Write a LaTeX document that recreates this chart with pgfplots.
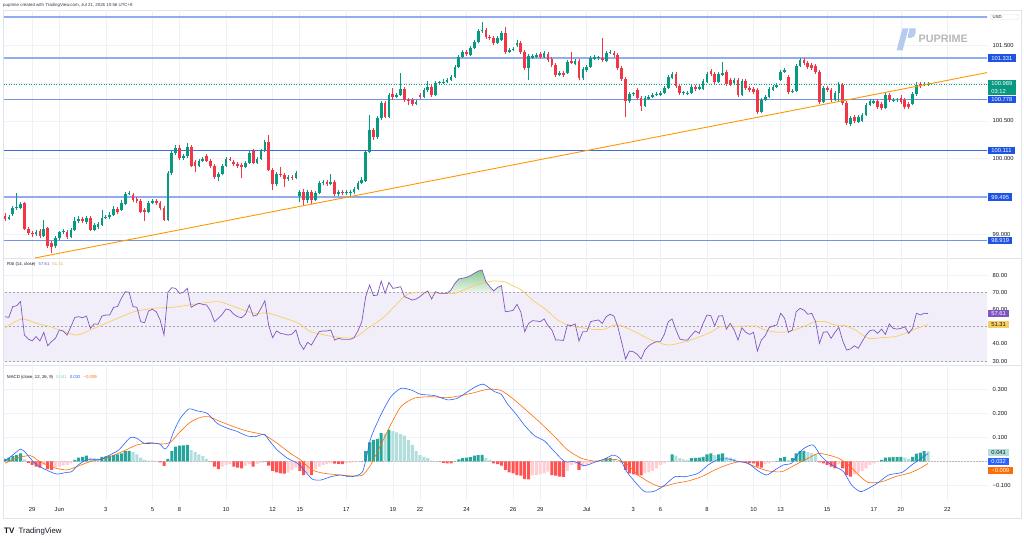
\documentclass[border=0pt]{standalone}
\usepackage{pgfplots}
\pgfplotsset{compat=1.18}
\usepackage{pgfplotstable}
\usepackage{fontspec}
\setmainfont{Liberation Sans}
\definecolor{up}{HTML}{089981}
\definecolor{dn}{HTML}{F23645}
\definecolor{hgd}{HTML}{26A69A}
\definecolor{hgl}{HTML}{B2DFDB}
\definecolor{hrd}{HTML}{FF5252}
\definecolor{hrl}{HTML}{FFCDD2}
\definecolor{macdc}{HTML}{2962FF}
\definecolor{sigc}{HTML}{FF6D00}
\definecolor{rsic}{HTML}{7E57C2}
\definecolor{rsima}{HTML}{F7CF5E}
\definecolor{band}{HTML}{F2EEF9}
\definecolor{gridc}{HTML}{EEF1F7}
\definecolor{srl}{HTML}{93ABEF}
\definecolor{srm}{HTML}{7393EA}
\definecolor{srd}{HTML}{3D6BE0}
\definecolor{boxb}{HTML}{1E53E5}
\definecolor{trend}{HTML}{FF9800}
\definecolor{sep}{HTML}{E0E3EB}
\definecolor{txt}{HTML}{131722}
\definecolor{logob}{HTML}{B7CAF0}
\definecolor{obtop}{HTML}{86C98F}
\definecolor{obbot}{HTML}{EEF6EF}
\newcommand\fs{\fontsize{5.8}{7}\selectfont}
\newcommand\ft{\fontsize{4.3}{5}\selectfont}

\pgfplotstableread{
i O H L C
0 99.243 99.282 99.177 99.203
1 99.203 99.256 99.190 99.229
2 99.269 99.375 99.243 99.348
3 99.348 99.546 99.322 99.362
4 99.348 99.428 99.335 99.401
5 99.414 99.428 99.058 99.071
6 99.071 99.097 98.992 99.018
7 99.018 99.044 98.965 99.005
8 99.005 99.058 98.978 99.031
9 99.044 99.071 98.952 98.978
10 98.978 99.190 98.965 99.071
11 99.084 99.097 98.820 98.846
12 98.886 98.912 98.754 98.833
13 98.846 98.978 98.820 98.952
14 98.952 99.044 98.926 99.031
15 99.031 99.071 99.005 99.044
16 99.031 99.058 98.939 98.965
17 98.965 99.084 98.952 99.058
18 99.058 99.229 99.044 99.177
19 99.177 99.243 99.150 99.203
20 99.203 99.229 99.150 99.177
21 99.163 99.243 99.137 99.216
22 99.216 99.243 99.044 99.058
23 99.058 99.150 99.044 99.124
24 99.097 99.163 99.071 99.137
25 99.124 99.322 99.110 99.216
26 99.216 99.256 99.203 99.229
27 99.229 99.296 99.203 99.256
28 99.256 99.375 99.243 99.335
29 99.335 99.361 99.269 99.296
30 99.322 99.454 99.309 99.414
31 99.401 99.560 99.388 99.533
32 99.533 99.573 99.520 99.546
33 99.520 99.546 99.428 99.454
34 99.467 99.494 99.414 99.441
35 99.441 99.467 99.282 99.296
36 99.322 99.348 99.177 99.296
37 99.296 99.441 99.282 99.414
38 99.414 99.467 99.401 99.441
39 99.441 99.467 99.388 99.414
40 99.414 99.441 99.322 99.348
41 99.348 99.375 99.177 99.190
42 99.190 99.837 99.177 99.811
43 99.811 100.101 99.784 100.075
44 100.075 100.181 100.049 100.141
45 100.141 100.181 99.983 100.009
46 100.009 100.062 99.983 100.035
47 100.035 100.207 100.009 100.154
48 100.154 100.181 99.890 99.903
49 99.956 99.983 99.824 99.903
50 99.903 99.996 99.890 99.969
51 99.969 100.022 99.956 99.996
52 100.035 100.062 99.956 99.969
53 99.969 99.996 99.877 99.903
54 99.903 99.930 99.732 99.758
55 99.758 99.824 99.705 99.798
56 99.798 99.930 99.784 99.903
57 99.903 100.022 99.890 99.996
58 99.996 100.022 99.969 99.986
59 99.956 99.983 99.903 99.930
60 99.930 99.956 99.877 99.903
61 99.916 99.943 99.745 99.890
62 99.890 99.969 99.877 99.943
63 99.943 100.101 99.930 100.075
64 100.101 100.128 99.930 99.943
65 99.943 100.022 99.930 99.996
66 99.996 100.128 99.983 100.101
67 100.101 100.247 100.088 100.220
68 100.220 100.313 99.837 99.851
69 99.851 99.877 99.586 99.665
70 99.665 99.824 99.639 99.798
71 99.798 99.890 99.758 99.784
72 99.784 99.811 99.626 99.732
73 99.732 99.784 99.705 99.758
74 99.758 99.784 99.719 99.745
75 99.745 99.837 99.732 99.811
76 99.507 99.586 99.428 99.560
77 99.560 99.599 99.388 99.454
78 99.454 99.586 99.414 99.560
79 99.560 99.586 99.401 99.454
80 99.454 99.573 99.441 99.546
81 99.546 99.705 99.533 99.679
82 99.679 99.719 99.652 99.692
83 99.692 99.719 99.639 99.665
84 99.665 99.798 99.652 99.692
85 99.692 99.719 99.507 99.533
86 99.533 99.586 99.507 99.560
87 99.560 99.586 99.520 99.546
88 99.546 99.586 99.520 99.560
89 99.546 99.586 99.507 99.560
90 99.560 99.626 99.533 99.599
91 99.599 99.705 99.586 99.679
92 99.679 99.758 99.665 99.719
93 99.705 100.115 99.692 100.088
94 100.088 100.577 100.075 100.379
95 100.379 100.405 100.247 100.286
96 100.286 100.564 100.260 100.537
97 100.537 100.762 100.511 100.735
98 100.735 100.762 100.537 100.550
99 100.550 100.868 100.537 100.841
100 100.854 100.934 100.775 100.815
101 100.815 100.868 100.802 100.841
102 100.841 101.132 100.828 100.920
103 100.920 100.947 100.749 100.775
104 100.775 100.802 100.709 100.762
105 100.775 100.802 100.696 100.722
106 100.722 100.775 100.709 100.749
107 100.841 100.868 100.788 100.815
108 100.815 100.934 100.802 100.907
109 100.907 101.026 100.881 100.947
110 100.947 100.973 100.815 100.841
111 100.841 101.026 100.828 101.000
112 101.000 101.026 100.973 101.010
113 101.000 101.053 100.987 101.013
114 101.013 101.066 101.000 101.039
115 101.039 101.105 101.026 101.079
116 101.079 101.238 101.066 101.211
117 101.211 101.370 101.198 101.343
118 101.343 101.436 101.330 101.409
119 101.409 101.436 101.356 101.383
120 101.370 101.488 101.356 101.462
121 101.462 101.568 101.449 101.541
122 101.541 101.713 101.528 101.686
123 101.686 101.806 101.660 101.700
124 101.700 101.726 101.581 101.607
125 101.607 101.634 101.568 101.594
126 101.594 101.621 101.502 101.528
127 101.528 101.621 101.515 101.594
128 101.568 101.686 101.555 101.660
129 101.660 101.739 101.383 101.409
130 101.409 101.462 101.396 101.436
131 101.436 101.475 101.422 101.449
132 101.502 101.568 101.475 101.528
133 101.528 101.555 101.383 101.409
134 101.409 101.436 101.172 101.198
135 101.198 101.383 101.039 101.356
136 101.330 101.383 101.317 101.356
137 101.343 101.396 101.330 101.370
138 101.383 101.409 101.317 101.343
139 101.343 101.422 101.330 101.396
140 101.383 101.409 101.277 101.304
141 101.317 101.343 101.211 101.237
142 101.237 101.264 101.079 101.105
143 101.105 101.158 101.092 101.132
144 101.132 101.158 101.079 101.105
145 101.132 101.304 101.119 101.277
146 101.290 101.409 101.251 101.264
147 101.251 101.317 101.237 101.290
148 101.290 101.317 101.039 101.066
149 101.066 101.211 101.039 101.185
150 101.172 101.237 101.145 101.211
151 101.211 101.356 101.198 101.330
152 101.317 101.370 101.304 101.343
153 101.330 101.356 101.304 101.340
154 101.330 101.594 101.277 101.304
155 101.290 101.422 101.277 101.396
156 101.396 101.436 101.383 101.409
157 101.396 101.422 101.343 101.370
158 101.370 101.396 101.172 101.198
159 101.198 101.224 101.026 101.052
160 101.052 101.079 100.551 100.762
161 100.762 100.881 100.735 100.854
162 100.854 100.881 100.828 100.864
163 100.907 100.934 100.775 100.802
164 100.802 100.828 100.630 100.696
165 100.696 100.828 100.683 100.802
166 100.788 100.841 100.775 100.815
167 100.815 100.868 100.802 100.841
168 100.841 100.881 100.828 100.854
169 100.841 100.894 100.828 100.868
170 100.868 100.960 100.854 100.934
171 100.934 101.105 100.920 101.079
172 101.066 101.145 101.052 101.119
173 101.119 101.145 100.934 100.960
174 100.960 100.987 100.841 100.868
175 100.868 100.894 100.841 100.878
176 100.854 100.894 100.841 100.868
177 100.868 100.973 100.854 100.947
178 100.947 100.973 100.894 100.920
179 100.920 100.973 100.907 100.947
180 100.920 101.053 100.907 101.026
181 101.013 101.145 101.000 101.119
182 101.158 101.185 101.092 101.119
183 101.119 101.145 100.987 101.013
184 101.013 101.145 101.000 101.119
185 101.105 101.277 101.092 101.132
186 101.145 101.172 100.960 100.987
187 101.039 101.066 100.960 100.987
188 101.000 101.066 100.973 101.039
189 101.039 101.066 100.815 100.841
190 100.841 101.053 100.828 101.026
191 101.026 101.053 100.907 100.934
192 100.934 100.960 100.881 100.907
193 100.920 100.947 100.854 100.881
194 100.907 100.934 100.590 100.617
195 100.617 100.802 100.603 100.775
196 100.775 100.841 100.762 100.815
197 100.815 100.947 100.802 100.920
198 100.907 100.973 100.894 100.947
199 100.947 101.000 100.934 100.973
200 101.039 101.172 101.026 101.145
201 101.145 101.198 101.132 101.172
202 101.079 101.105 100.854 100.881
203 100.881 100.920 100.868 100.894
204 100.894 101.251 100.881 101.224
205 101.224 101.330 101.211 101.304
206 101.304 101.330 101.237 101.264
207 101.264 101.290 101.185 101.211
208 101.237 101.264 101.172 101.198
209 101.224 101.251 101.119 101.145
210 101.145 101.172 100.722 100.749
211 100.749 100.960 100.735 100.934
212 100.934 100.960 100.881 100.907
213 100.907 100.934 100.749 100.775
214 100.775 100.894 100.762 100.868
215 100.868 101.013 100.762 100.973
216 100.973 101.000 100.709 100.735
217 100.735 100.762 100.445 100.471
218 100.458 100.564 100.432 100.537
219 100.551 100.577 100.471 100.498
220 100.485 100.577 100.471 100.551
221 100.498 100.603 100.485 100.577
222 100.577 100.735 100.564 100.709
223 100.709 100.788 100.696 100.762
224 100.735 100.788 100.722 100.762
225 100.762 100.788 100.656 100.683
226 100.722 100.749 100.643 100.670
227 100.670 100.868 100.656 100.841
228 100.841 100.868 100.749 100.775
229 100.762 100.802 100.749 100.775
230 100.775 100.802 100.749 100.785
231 100.802 100.841 100.722 100.749
232 100.775 100.802 100.656 100.683
233 100.722 100.749 100.656 100.683
234 100.722 100.881 100.709 100.854
235 100.854 101.013 100.828 100.973
236 100.987 101.013 100.934 100.960
237 100.973 101.013 100.960 100.987
238 100.987 101.013 100.960 100.989
}\candles

\pgfplotstableread{
i r
0 55.8
1 55.4
2 61.7
3 62.2
4 64.6
5 45.1
6 42.8
7 41.7
8 44.2
9 41.7
10 46.7
11 38.9
12 41.3
13 43.2
14 48.1
15 47.5
16 45.1
17 50.0
18 55.4
19 55.8
20 55.2
21 56.2
22 49.0
23 51.6
24 51.4
25 56.2
26 56.8
27 56.8
28 61.3
29 61.7
30 66.5
31 70.4
32 70.0
33 61.7
34 61.3
35 52.9
36 52.3
37 59.1
38 60.1
39 58.7
40 53.9
41 45.1
42 70.0
43 72.7
44 72.3
45 69.4
46 70.0
47 72.3
48 61.3
49 62.6
50 63.6
51 63.0
52 62.6
53 59.1
54 52.9
55 54.9
56 57.2
57 60.3
58 59.7
59 57.2
60 55.8
61 55.2
62 57.2
63 62.6
64 56.2
65 56.8
66 60.7
67 65.1
68 50.6
69 43.6
70 47.5
71 46.1
72 45.7
73 45.1
74 45.7
75 48.1
76 40.3
77 36.8
78 40.9
79 39.3
80 43.2
81 47.1
82 47.5
83 47.5
84 48.1
85 42.2
86 43.2
87 42.6
88 42.6
89 42.6
90 43.6
91 47.5
92 52.9
93 67.5
94 74.3
95 68.1
96 68.4
97 76.6
98 69.4
99 75.8
100 72.3
101 72.7
102 73.3
103 67.5
104 66.5
105 65.5
106 66.1
107 67.5
108 69.4
109 70.8
110 66.1
111 70.4
112 69.4
113 69.4
114 69.4
115 71.4
116 75.2
117 77.8
118 78.2
119 78.7
120 79.7
121 81.1
122 82.4
123 83.0
124 76.2
125 73.3
126 70.8
127 72.9
128 73.9
129 58.7
130 59.0
131 59.5
132 63.0
133 58.5
134 47.1
135 51.9
136 53.5
137 53.3
138 52.9
139 54.5
140 50.6
141 48.1
142 42.2
143 42.2
144 42.0
145 51.0
146 50.6
147 51.6
148 41.7
149 47.1
150 47.1
151 52.9
152 53.5
153 53.9
154 51.9
155 55.8
156 57.2
157 56.2
158 50.0
159 40.9
160 31.2
161 35.8
162 35.4
163 33.9
164 31.2
165 36.4
166 38.9
167 40.3
168 41.3
169 41.3
170 45.5
171 52.9
172 54.5
173 48.1
174 42.8
175 42.2
176 42.2
177 45.1
178 47.5
179 46.1
180 51.9
181 56.8
182 56.4
183 50.4
184 56.2
185 56.4
186 48.6
187 51.9
188 48.1
189 42.2
190 49.4
191 46.7
192 45.5
193 46.7
194 35.8
195 42.2
196 44.6
197 49.4
198 50.4
199 51.0
200 57.8
201 54.9
202 46.7
203 48.1
204 58.7
205 60.7
206 59.7
207 57.2
208 57.8
209 52.9
210 40.3
211 46.7
212 47.1
213 43.2
214 46.7
215 49.6
216 41.7
217 36.4
218 37.0
219 38.9
220 37.4
221 41.3
222 45.1
223 47.7
224 48.1
225 46.1
226 48.6
227 45.5
228 51.6
229 49.0
230 48.6
231 49.0
232 50.0
233 46.1
234 49.0
235 57.8
236 56.8
237 57.8
238 57.61
}\rsi

\pgfplotstableread{
i h c
0 0.010 0
1 0.015 0
2 0.022 0
3 0.026 0
4 0.033 0
5 0.008 1
6 -0.006 2
7 -0.015 2
8 -0.022 2
9 -0.026 2
10 -0.015 3
11 -0.032 2
12 -0.036 2
13 -0.026 3
14 -0.022 3
15 -0.018 3
16 -0.015 3
17 -0.008 3
18 0.006 0
19 0.015 0
20 0.019 0
21 0.024 0
22 0.015 1
23 0.013 1
24 0.010 1
25 0.019 0
26 0.021 0
27 0.024 0
28 0.026 0
29 0.029 0
30 0.033 0
31 0.043 0
32 0.044 0
33 0.038 1
34 0.029 1
35 0.015 1
36 0.006 1
37 0.003 1
38 0.003 1
39 0.001 1
40 -0.004 2
41 -0.019 2
42 0.010 0
43 0.043 0
44 0.061 0
45 0.065 0
46 0.066 0
47 0.068 0
48 0.047 1
49 0.038 1
50 0.029 1
51 0.022 1
52 0.010 1
53 -0.001 2
54 -0.022 2
55 -0.032 2
56 -0.022 3
57 -0.015 3
58 -0.012 3
59 -0.022 2
60 -0.026 2
61 -0.029 2
62 -0.018 3
63 -0.012 3
64 -0.022 2
65 -0.012 3
66 -0.006 3
67 0.001 0
68 -0.018 2
69 -0.040 2
70 -0.046 2
71 -0.050 2
72 -0.051 2
73 -0.047 3
74 -0.036 3
75 -0.026 3
76 -0.040 2
77 -0.057 2
78 -0.050 3
79 -0.057 2
80 -0.032 3
81 -0.022 3
82 -0.015 3
83 -0.012 3
84 -0.008 3
85 -0.010 2
86 -0.011 2
87 -0.012 2
88 -0.007 3
89 -0.006 3
90 -0.004 3
91 -0.001 3
92 0.001 0
93 0.043 0
94 0.079 0
95 0.089 0
96 0.093 0
97 0.117 0
98 0.115 1
99 0.131 0
100 0.126 1
101 0.121 1
102 0.113 1
103 0.107 1
104 0.089 1
105 0.068 1
106 0.043 1
107 0.026 1
108 0.019 1
109 0.013 1
110 0.003 1
111 0.001 1
112 -0.001 2
113 -0.006 2
114 -0.008 2
115 -0.009 2
116 0.001 0
117 0.008 0
118 0.013 0
119 0.015 0
120 0.018 0
121 0.024 0
122 0.026 0
123 0.027 0
124 0.013 1
125 0.006 1
126 -0.008 2
127 -0.012 2
128 -0.018 2
129 -0.036 2
130 -0.046 2
131 -0.050 2
132 -0.057 2
133 -0.060 2
134 -0.074 2
135 -0.075 2
136 -0.057 3
137 -0.057 3
138 -0.054 3
139 -0.050 3
140 -0.043 3
141 -0.057 2
142 -0.060 2
143 -0.064 2
144 -0.065 2
145 -0.040 3
146 -0.015 3
147 -0.012 3
148 -0.036 2
149 -0.022 3
150 -0.015 3
151 -0.008 3
152 -0.004 3
153 -0.001 3
154 0.003 0
155 0.013 0
156 0.014 0
157 0.008 1
158 0.001 1
159 -0.004 2
160 -0.036 2
161 -0.050 2
162 -0.054 2
163 -0.057 2
164 -0.058 2
165 -0.050 3
166 -0.046 3
167 -0.040 3
168 -0.029 3
169 -0.015 3
170 -0.008 3
171 -0.001 3
172 0.029 0
173 0.024 1
174 0.013 1
175 0.008 1
176 0.006 1
177 0.013 0
178 0.014 0
179 0.015 0
180 0.019 0
181 0.029 0
182 0.033 0
183 0.026 1
184 0.029 0
185 0.033 0
186 0.019 1
187 0.015 1
188 0.010 1
189 0.001 1
190 -0.001 2
191 -0.006 2
192 -0.007 2
193 -0.008 2
194 -0.022 2
195 -0.026 2
196 -0.012 3
197 -0.008 3
198 -0.001 3
199 0.001 0
200 0.013 0
201 0.019 0
202 0.006 1
203 0.013 0
204 0.033 0
205 0.043 0
206 0.044 0
207 0.038 1
208 0.033 1
209 0.029 1
210 -0.004 2
211 -0.008 2
212 -0.015 2
213 -0.022 2
214 -0.029 2
215 -0.012 3
216 -0.029 2
217 -0.057 2
218 -0.064 2
219 -0.054 3
220 -0.050 3
221 -0.040 3
222 -0.029 3
223 -0.015 3
224 -0.008 3
225 -0.001 3
226 0.006 0
227 0.015 0
228 0.016 0
229 0.018 0
230 0.018 0
231 0.019 0
232 0.015 1
233 0.010 1
234 0.019 0
235 0.032 0
236 0.036 0
237 0.043 0
238 0.041 1
}\hist

\pgfplotsset{
  tvpane/.style={
    scale only axis, anchor=south west, width=983pt,
    xmin=-0.26, xmax=253.2,
    axis line style={draw=none},
    major tick length=0pt,
    xtick={7,14,26,38,45,57,69,76,88,100,107,119,131,138,150,162,169,181,193,200,212,224,231,243},
    xticklabels={},
    grid=major, grid style={draw=gridc, line width=0.6pt},
    yticklabel pos=right,
    yticklabel style={font=\fs, anchor=west, inner sep=0pt, xshift=5.5pt, text=txt},
    clip=true,
  },
  wick/.style={only marks, mark=*, mark size=0pt, mark options={draw=none, fill=none}, forget plot,
    error bars/y dir=plus, error bars/y explicit, error bars/error mark=none,
    error bars/error bar style={line width=0.75pt, draw=#1}},
  body/.style={only marks, mark=*, mark size=0pt, mark options={draw=none, fill=none}, forget plot,
    error bars/y dir=plus, error bars/y explicit, error bars/error mark=none,
    error bars/error bar style={line width=2.7pt, draw=#1}},
  hbar/.style={ybar, bar width=0.78, bar shift=0pt, fill=#1, draw=none, forget plot},
}
\tikzset{sbox/.style={anchor=west, inner xsep=3.2pt, inner ysep=1.5pt, text height=4.2pt, text depth=0pt, font=\fs}}

\begin{document}
\begin{tikzpicture}[x=1pt,y=1pt]
\path[use as bounding box] (0,0) rectangle (1024,542);
\fill[white] (0,0) rectangle (1024,542);
\draw[sep, line width=0.6pt] (3,24) rectangle (1021,532);
\draw[sep, line width=0.6pt] (3,284) -- (1021,284);
\draw[sep, line width=0.6pt] (3,177) -- (1021,177);

% ---------------- price pane
\begin{axis}[tvpane, at={(4pt,284pt)}, height=248pt, ymin=98.688, ymax=101.964,
  ytick={99,99.5,100,100.5,101,101.5},
  yticklabels={99.000,,100.000,100.500,,101.500}]
\addplot[srl, line width=1.6pt, forget plot] coordinates {(-1,101.872) (254,101.872)};
\addplot[srl, line width=1.6pt, forget plot] coordinates {(-1,101.331) (254,101.331)};
\addplot[srm, line width=1.3pt, forget plot] coordinates {(-1,100.778) (254,100.778)};
\addplot[srd, line width=1.0pt, forget plot] coordinates {(-1,100.111) (254,100.111)};
\addplot[srl, line width=1.6pt, forget plot] coordinates {(-1,99.495) (254,99.495)};
\addplot[srm, line width=1.2pt, forget plot] coordinates {(-1,98.919) (254,98.919)};
\addplot[up, line width=0.5pt, dash pattern=on 1pt off 1.5pt, forget plot] coordinates {(-1,100.989) (254,100.989)};
% wicks
\addplot[wick=up, restrict expr to domain={\thisrow{C}-\thisrow{O}}{0.0001:10}]
  table[x=i, y=L, y error expr=\thisrow{H}-\thisrow{L}] {\candles};
\addplot[wick=dn, restrict expr to domain={\thisrow{C}-\thisrow{O}}{-10:-0.0001}]
  table[x=i, y=L, y error expr=\thisrow{H}-\thisrow{L}] {\candles};
% bodies
\addplot[body=up, restrict expr to domain={\thisrow{C}-\thisrow{O}}{0.0001:10}]
  table[x=i, y=O, y error expr=\thisrow{C}-\thisrow{O}] {\candles};
\addplot[body=dn, restrict expr to domain={\thisrow{C}-\thisrow{O}}{-10:-0.0001}]
  table[x=i, y=C, y error expr=\thisrow{O}-\thisrow{C}] {\candles};
% trend line
\addplot[trend, line width=0.9pt, forget plot] coordinates {(7.7,98.688) (253.2,101.137)};
\coordinate (b1) at (axis cs:253.2,101.331);
\coordinate (b2) at (axis cs:253.2,100.989);
\coordinate (b3) at (axis cs:253.2,100.778);
\coordinate (b4) at (axis cs:253.2,100.111);
\coordinate (b5) at (axis cs:253.2,99.495);
\coordinate (b6) at (axis cs:253.2,98.919);
\end{axis}

% ---------------- RSI pane
\begin{axis}[tvpane, at={(4pt,177pt)}, height=107pt, ymin=27.67, ymax=90.0,
  ytick={30,40,50,60,70,80}, yticklabels={30.00,40.00,,60.00,70.00,80.00}]
\addplot[fill=band, draw=none, forget plot] coordinates {(-1,30) (254,30) (254,70) (-1,70)};
\addplot[gray!70, line width=0.5pt, dash pattern=on 2pt off 2pt, forget plot] coordinates {(-1,70) (254,70)};
\addplot[gray!70, line width=0.5pt, dash pattern=on 2pt off 2pt, forget plot] coordinates {(-1,50) (254,50)};
\addplot[gray!70, line width=0.5pt, dash pattern=on 2pt off 2pt, forget plot] coordinates {(-1,30) (254,30)};
\addplot[draw=none, top color=obtop, bottom color=obbot, forget plot] coordinates {
(114.3,70) (115,71.4) (116,75.2) (117,77.8) (118,78.2) (119,78.7) (120,79.7) (121,81.1)
(122,82.4) (123,83.0) (124,76.2) (125,73.3) (126,70.8) (127,72.9) (128,73.9) (128.26,70)};
\addplot[rsima, line width=0.7pt, smooth, tension=0.4, forget plot] coordinates {
(0,49.4) (4.3,54.5) (8.2,51.9) (11.6,50.0) (18.3,45.1) (22,48.1) (28,53.9) (33.2,58.7)
(38.3,60.7) (43.5,61.3) (50.4,63.6) (55.1,64.6) (59,61.7) (64.2,57.8) (68,57.8) (75.4,52.3)
(78.8,47.1) (84.8,44.2) (90,43.6) (93.5,49.0) (97.8,55.8) (102.9,67.5) (105.5,70.0) (109,70.0)
(112.4,69.4) (115.8,69.4) (119.3,72.3) (122.7,75.2) (125.8,76.6) (128.8,76.2) (130.5,74.3)
(133.1,71.4) (136.5,64.6) (139.1,60.7) (142.5,53.9) (145.1,51.0) (148.6,49.4) (152,48.4)
(154.6,48.6) (157.2,51.0) (158.9,50.6) (162.4,47.1) (166.7,42.2) (171,39.3) (176.1,41.7)
(181.3,46.1) (184.7,50.0) (188.2,50.0) (193.4,50.4) (195.9,48.1) (199.4,46.7) (202.8,47.5)
(206.3,50.4) (208.9,52.9) (211.5,52.9) (214,51.0) (216.6,50.6) (219.2,48.1) (222.6,43.2)
(226.1,43.6) (229.5,44.2) (232.1,46.1) (234.7,48.6) (238,51.31)};
\addplot[rsic, line width=0.7pt, forget plot] table[x=i, y=r] {\rsi};
\coordinate (r1) at (axis cs:253.2,57.61);
\coordinate (r2) at (axis cs:253.2,51.31);
\end{axis}

% ---------------- MACD pane
\begin{axis}[tvpane, at={(4pt,42pt)}, height=135pt, ymin=-0.161, ymax=0.401,
  ytick={-0.1,0,0.1,0.2,0.3}, yticklabels={−0.100,,0.100,0.200,0.300},
  xticklabels={29,Jun,3,5,8,10,12,15,17,19,22,24,26,29,Jul,3,6,8,10,13,15,17,20,22},
  xticklabel style={font=\fs, anchor=north, inner sep=0pt, yshift=-7pt, text=txt}]
\addplot[gray!55, line width=0.5pt, dash pattern=on 1.5pt off 1.5pt, forget plot] coordinates {(-1,0) (254,0)};
\addplot[hbar=hgd, restrict expr to domain={\thisrow{c}}{-0.5:0.5}] table[x=i, y=h] {\hist};
\addplot[hbar=hgl, restrict expr to domain={\thisrow{c}}{0.5:1.5}] table[x=i, y=h] {\hist};
\addplot[hbar=hrd, restrict expr to domain={\thisrow{c}}{1.5:2.5}] table[x=i, y=h] {\hist};
\addplot[hbar=hrl, restrict expr to domain={\thisrow{c}}{2.5:3.5}] table[x=i, y=h] {\hist};
\addplot[sigc, line width=0.6pt, smooth, tension=0.4, forget plot] coordinates {
(0,-0.008) (3,0.013) (6.5,0.024) (9,-0.001) (12.5,-0.026) (15.9,-0.036) (18.5,-0.022) (22,-0.001)
(26.3,0.015) (30.6,0.043) (34,0.068) (37.5,0.078) (40.1,0.072) (42.6,0.079) (45.2,0.124)
(47.8,0.163) (50.4,0.183) (52.5,0.186) (55.6,0.165) (59,0.144) (62.4,0.126) (66.8,0.110)
(70.2,0.075) (73.6,0.033) (76.2,0.006) (79.2,-0.036) (82.3,-0.050) (86.6,-0.057) (90,-0.061)
(92.2,-0.057) (94.3,-0.015) (96.9,0.068) (99.5,0.154) (102.1,0.228) (105.5,0.263) (109.8,0.269)
(114.1,0.265) (117.6,0.274) (121,0.286) (124.5,0.300) (127.9,0.295) (131.3,0.256) (134.8,0.207)
(138.2,0.158) (141.7,0.103) (145.1,0.047) (148.6,0.013) (152,0.001) (155.5,0.008) (158,0.006)
(160.6,-0.015) (163.2,-0.057) (166.7,-0.092) (169.2,-0.106) (172.7,-0.092) (176.1,-0.082)
(179.6,-0.064) (183,-0.036) (186.5,-0.013) (189.9,-0.001) (193.4,-0.022) (196.8,-0.040)
(200.3,-0.043) (203.7,-0.015) (207.1,0.013) (209.7,0.033) (212.3,0.026) (214.9,0.013)
(217.5,-0.015) (220.1,-0.057) (222.6,-0.088) (226.1,-0.085) (229.5,-0.064) (233,-0.050)
(235.6,-0.032) (238,-0.009)};
\addplot[macdc, line width=0.6pt, smooth, tension=0.4, forget plot] coordinates {
(0,0.001) (2.2,0.029) (4,0.051) (5.2,0.038) (6.5,0.013) (8.2,-0.015) (11.2,-0.040) (13.4,-0.053)
(15.9,-0.046) (17.2,-0.043) (18.9,-0.015) (21.1,0.006) (24.5,0.007) (26.7,0.024) (29.3,0.047)
(32.3,0.099) (34,0.096) (35.9,0.075) (38.3,0.075) (39.9,0.072) (41.2,0.051) (42.2,0.068)
(43.5,0.124) (45.2,0.179) (47.4,0.218) (49.5,0.210) (52.1,0.200) (54.7,0.158) (57.3,0.138)
(59.9,0.124) (62.4,0.106) (64.6,0.103) (66.8,0.113) (68,0.089) (70.2,0.047) (72.8,0.013)
(75.4,-0.008) (77.1,-0.036) (79.2,-0.074) (81.4,-0.078) (84,-0.064) (86.6,-0.057) (89.1,-0.064)
(92.2,-0.043) (94.3,0.096) (96.9,0.193) (99.5,0.269) (102.1,0.304) (104.7,0.297) (107.2,0.279)
(110.7,0.274) (114.1,0.256) (116.7,0.263) (119.3,0.290) (121.4,0.311) (123.4,0.321) (126.2,0.290)
(127.9,0.280) (129.6,0.238) (131.8,0.196) (133.9,0.151) (136.5,0.107) (139.1,0.085) (141.7,0.040)
(144.3,-0.001) (146.8,-0.001) (149.4,-0.018) (152,-0.004) (154.6,0.010) (156.8,0.026) (158.5,0.013)
(160.2,-0.040) (162.4,-0.085) (164.9,-0.126) (167.5,-0.124) (170.1,-0.099) (172.7,-0.064)
(175.3,-0.064) (178.7,-0.050) (181.3,-0.015) (183.9,0.008) (186.5,0.010) (189.1,-0.001)
(191.6,-0.008) (194.2,-0.040) (196.4,-0.057) (198.5,-0.036) (200.7,-0.015) (202.8,-0.008)
(204.6,0.033) (206.3,0.057) (208.4,0.068) (210.2,0.026) (211.9,-0.001) (214,-0.022)
(216.2,-0.043) (218.3,-0.099) (220.5,-0.126) (222.6,-0.113) (225.2,-0.088) (227.8,-0.057)
(231.3,-0.046) (233.8,-0.015) (236.4,0.015) (238,0.032)};
\coordinate (m1) at (axis cs:253.2,0.0375);
\coordinate (m2) at (axis cs:253.2,0);
\coordinate (m3) at (axis cs:253.2,-0.0375);
\end{axis}

% ---------------- right-hand value boxes
\node[sbox, fill=boxb, text=white] at ([xshift=1pt]b1) {101.331};
\node[anchor=north west, fill=up, text=white, inner xsep=3.2pt, inner ysep=1.8pt, align=left,
  font=\fontsize{5.8}{8}\selectfont] at ([xshift=1pt,yshift=4.4pt]b2) {100.989\\03:12};
\node[sbox, fill=boxb, text=white] at ([xshift=1pt]b3) {100.778};
\node[sbox, fill=boxb, text=white] at ([xshift=1pt]b4) {100.111};
\node[sbox, fill=boxb, text=white] at ([xshift=1pt]b5) {99.495};
\node[sbox, fill=boxb, text=white] at ([xshift=1pt]b6) {98.919};
\node[sbox, fill=rsic, text=white] at ([xshift=1pt]r1) {57.61};
\node[sbox, fill=rsima, text=txt] at ([xshift=1pt]r2) {51.31};
\node[sbox, fill=hgl, text=txt] at ([xshift=1pt]m1) {0.041};
\node[sbox, fill=macdc, text=white] at ([xshift=1pt]m2) {0.032};
\node[sbox, fill=sigc, text=white] at ([xshift=1pt]m3) {−0.009};
\node[draw=sep, rounded corners=1.5pt, anchor=west, inner xsep=2.5pt, inner ysep=1.2pt,
  minimum width=28pt, align=left, font=\ft, text=txt] at (990,525) {USD\hspace{14pt}};

% ---------------- texts
\node[anchor=west, inner sep=0pt, font=\fontsize{4.4}{5}\selectfont, text=txt!85] at (3,537)
  {puprime created with TradingView.com, Jul 21, 2026 10:56 UTC+8};
\node[anchor=west, inner sep=0pt, font=\ft, text=txt] at (7,278)
  {RSI (14, close)\hspace{3pt}\textcolor{rsic}{57.61}\hspace{3pt}\textcolor{rsima!85!black}{51.31}};
\node[anchor=west, inner sep=0pt, font=\ft, text=txt] at (7,165)
  {MACD (close, 12, 26, 9)\hspace{3pt}\textcolor{hgd!55}{0.041}\hspace{3pt}\textcolor{macdc}{0.032}\hspace{3pt}\textcolor{sigc}{−0.009}};
\node[anchor=west, inner sep=0pt, font=\fontsize{8}{9}\selectfont\bfseries, text=txt] at (4,11) {TV};
\node[anchor=west, inner sep=0pt, font=\fontsize{7.8}{9}\selectfont, text=txt] at (18.5,11) {TradingView};
% PU Prime watermark
\fill[logob] (896.5,491.5) -- (902.5,491.5) -- (908.5,513.7) -- (902.5,513.7) -- cycle;
\fill[logob] (909.5,513.7) -- (915.5,513.7) -- (915.5,509) arc[start angle=0, end angle=-90, radius=5] -- (907.5,504) -- cycle;
\node[anchor=west, inner sep=0pt, font=\fontsize{10.8}{12}\selectfont\bfseries, text=black!28] at (918.5,502.7) {PUPRIME};
\end{tikzpicture}
\end{document}
